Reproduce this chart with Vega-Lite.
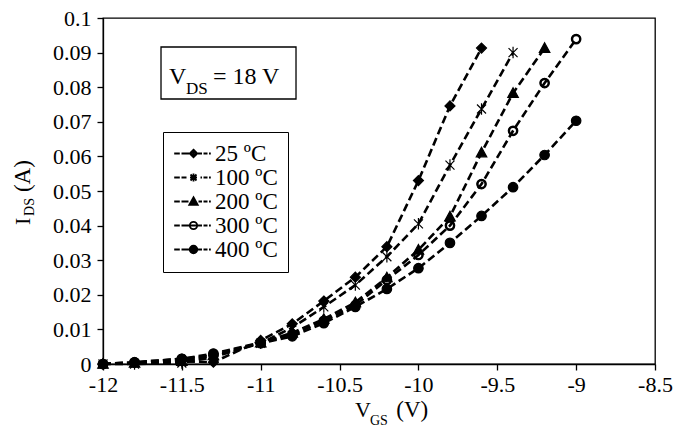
{
  "$schema": "https://vega.github.io/schema/vega-lite/v6.json",
  "width": 552,
  "height": 346,
  "autosize": "none",
  "padding": {"left": 103, "top": 18, "right": 32, "bottom": 66},
  "background": "white",
  "config": {
    "view": {"stroke": "black", "strokeWidth": 1.3},
    "font": "Liberation Serif",
    "axis": {
      "domainColor": "black", "domainWidth": 1.3, "tickColor": "black", "tickWidth": 1.3, "tickSize": 6,
      "labelFont": "Liberation Serif", "labelFontSize": 22, "labelColor": "black", "grid": false, "labelOverlap": false, "labelFlush": false
    }
  },
  "datasets": {
    "iv": [
      {"series": "\u200725 ºC", "vgs": -12, "ids": 0},
      {"series": "\u200725 ºC", "vgs": -11.8, "ids": 0.0003},
      {"series": "\u200725 ºC", "vgs": -11.5, "ids": 0.0008},
      {"series": "\u200725 ºC", "vgs": -11.3, "ids": 0.0005},
      {"series": "\u200725 ºC", "vgs": -11, "ids": 0.0068},
      {"series": "\u200725 ºC", "vgs": -10.8, "ids": 0.0116},
      {"series": "\u200725 ºC", "vgs": -10.6, "ids": 0.0182},
      {"series": "\u200725 ºC", "vgs": -10.4, "ids": 0.0251},
      {"series": "\u200725 ºC", "vgs": -10.2, "ids": 0.0339},
      {"series": "\u200725 ºC", "vgs": -10, "ids": 0.053},
      {"series": "\u200725 ºC", "vgs": -9.8, "ids": 0.0746},
      {"series": "\u200725 ºC", "vgs": -9.6, "ids": 0.0913},
      {"series": "100 ºC", "vgs": -12, "ids": 0},
      {"series": "100 ºC", "vgs": -11.8, "ids": 0},
      {"series": "100 ºC", "vgs": -11.5, "ids": 0.0003},
      {"series": "100 ºC", "vgs": -11.3, "ids": 0.002},
      {"series": "100 ºC", "vgs": -11, "ids": 0.006},
      {"series": "100 ºC", "vgs": -10.8, "ids": 0.0105},
      {"series": "100 ºC", "vgs": -10.6, "ids": 0.0165},
      {"series": "100 ºC", "vgs": -10.4, "ids": 0.0228},
      {"series": "100 ºC", "vgs": -10.2, "ids": 0.031},
      {"series": "100 ºC", "vgs": -10, "ids": 0.0405},
      {"series": "100 ºC", "vgs": -9.8, "ids": 0.0575},
      {"series": "100 ºC", "vgs": -9.6, "ids": 0.0737},
      {"series": "100 ºC", "vgs": -9.4, "ids": 0.09},
      {"series": "200 ºC", "vgs": -12, "ids": 0},
      {"series": "200 ºC", "vgs": -11.8, "ids": 0.0003},
      {"series": "200 ºC", "vgs": -11.5, "ids": 0.0008},
      {"series": "200 ºC", "vgs": -11.3, "ids": 0.0025},
      {"series": "200 ºC", "vgs": -11, "ids": 0.0062},
      {"series": "200 ºC", "vgs": -10.8, "ids": 0.009},
      {"series": "200 ºC", "vgs": -10.6, "ids": 0.013},
      {"series": "200 ºC", "vgs": -10.4, "ids": 0.0178},
      {"series": "200 ºC", "vgs": -10.2, "ids": 0.025},
      {"series": "200 ºC", "vgs": -10, "ids": 0.033},
      {"series": "200 ºC", "vgs": -9.8, "ids": 0.0426},
      {"series": "200 ºC", "vgs": -9.6, "ids": 0.0611},
      {"series": "200 ºC", "vgs": -9.4, "ids": 0.0783},
      {"series": "200 ºC", "vgs": -9.2, "ids": 0.0913},
      {"series": "300 ºC", "vgs": -12, "ids": 0},
      {"series": "300 ºC", "vgs": -11.8, "ids": 0.0005},
      {"series": "300 ºC", "vgs": -11.5, "ids": 0.0015},
      {"series": "300 ºC", "vgs": -11.3, "ids": 0.003},
      {"series": "300 ºC", "vgs": -11, "ids": 0.0062},
      {"series": "300 ºC", "vgs": -10.8, "ids": 0.0085},
      {"series": "300 ºC", "vgs": -10.6, "ids": 0.0125},
      {"series": "300 ºC", "vgs": -10.4, "ids": 0.017},
      {"series": "300 ºC", "vgs": -10.2, "ids": 0.0243},
      {"series": "300 ºC", "vgs": -10, "ids": 0.0315},
      {"series": "300 ºC", "vgs": -9.8, "ids": 0.04},
      {"series": "300 ºC", "vgs": -9.6, "ids": 0.052},
      {"series": "300 ºC", "vgs": -9.4, "ids": 0.0674},
      {"series": "300 ºC", "vgs": -9.2, "ids": 0.0812},
      {"series": "300 ºC", "vgs": -9, "ids": 0.0939},
      {"series": "400 ºC", "vgs": -12, "ids": 0},
      {"series": "400 ºC", "vgs": -11.8, "ids": 0.0005},
      {"series": "400 ºC", "vgs": -11.5, "ids": 0.0015},
      {"series": "400 ºC", "vgs": -11.3, "ids": 0.0025},
      {"series": "400 ºC", "vgs": -11, "ids": 0.006},
      {"series": "400 ºC", "vgs": -10.8, "ids": 0.008},
      {"series": "400 ºC", "vgs": -10.6, "ids": 0.0118},
      {"series": "400 ºC", "vgs": -10.4, "ids": 0.0165},
      {"series": "400 ºC", "vgs": -10.2, "ids": 0.0217},
      {"series": "400 ºC", "vgs": -10, "ids": 0.0277},
      {"series": "400 ºC", "vgs": -9.8, "ids": 0.035},
      {"series": "400 ºC", "vgs": -9.6, "ids": 0.0428},
      {"series": "400 ºC", "vgs": -9.4, "ids": 0.0511},
      {"series": "400 ºC", "vgs": -9.2, "ids": 0.0604},
      {"series": "400 ºC", "vgs": -9, "ids": 0.0703}
    ]
  },
  "layer": [
    {
      "data": {"name": "iv"},
      "mark": {"type": "line", "strokeDash": [8, 4], "strokeWidth": 2.6, "color": "black"},
      "encoding": {
        "x": {
          "field": "vgs", "type": "quantitative",
          "scale": {"domain": [-12, -8.5], "nice": false, "zero": false},
          "axis": {"title": null, "values": [-12, -11.5, -11, -10.5, -10, -9.5, -9, -8.5], "labelExpr": "'' + datum.value", "labelPadding": 4}
        },
        "y": {
          "field": "ids", "type": "quantitative",
          "scale": {"domain": [0, 0.1], "nice": false},
          "axis": {"title": null, "values": [0, 0.01, 0.02, 0.03, 0.04, 0.05, 0.06, 0.07, 0.08, 0.09, 0.1], "labelExpr": "format(datum.value, '.2~f')", "labelPadding": 6}
        },
        "detail": {"field": "series"}
      }
    },
    {
      "data": {"name": "iv"},
      "mark": {"type": "point", "filled": true, "color": "black", "stroke": "black", "strokeWidth": 1.2, "size": 100, "opacity": 1},
      "encoding": {
        "x": {"field": "vgs", "type": "quantitative", "axis": {"title": null, "values": [-12, -11.5, -11, -10.5, -10, -9.5, -9, -8.5], "labelExpr": "'' + datum.value", "labelPadding": 4}},
        "y": {"field": "ids", "type": "quantitative", "axis": {"title": null, "values": [0, 0.01, 0.02, 0.03, 0.04, 0.05, 0.06, 0.07, 0.08, 0.09, 0.1], "labelExpr": "format(datum.value, '.2~f')", "labelPadding": 6}},
        "shape": {
          "field": "series",
          "scale": {
            "domain": ["\u200725 ºC", "100 ºC", "200 ºC", "300 ºC", "400 ºC"],
            "range": [
              "M0,-1L1,0L0,1L-1,0Z",
              "M-0.9,-0.9L0.9,0.9M-0.9,0.9L0.9,-0.9M0,-1.15L0,1.15",
              "M0,-1.05L1.05,0.85L-1.05,0.85Z",
              "M0.95,0A0.95,0.95,0,1,1,-0.95,0A0.95,0.95,0,1,1,0.95,0ZM0.7,0A0.7,0.7,0,1,0,-0.7,0A0.7,0.7,0,1,0,0.7,0Z",
              "M0.95,0A0.95,0.95,0,1,1,-0.95,0A0.95,0.95,0,1,1,0.95,0Z"
            ]
          },
          "legend": null
        }
      }
    },
    {
      "data": {"name": "iv"},
      "mark": {"type": "point", "filled": false, "color": "black", "strokeWidth": 1.8, "opacity": 0},
      "encoding": {
        "x": {"field": "vgs", "type": "quantitative", "axis": {"title": null, "values": [-12, -11.5, -11, -10.5, -10, -9.5, -9, -8.5], "labelExpr": "'' + datum.value", "labelPadding": 4}},
        "y": {"field": "ids", "type": "quantitative", "axis": {"title": null, "values": [0, 0.01, 0.02, 0.03, 0.04, 0.05, 0.06, 0.07, 0.08, 0.09, 0.1], "labelExpr": "format(datum.value, '.2~f')", "labelPadding": 6}},
        "shape": {
          "field": "series",
          "scale": {
            "domain": ["\u200725 ºC", "100 ºC", "200 ºC", "300 ºC", "400 ºC"],
            "range": [
              "M-1.03,0H-0.47M-0.3,0H0.45M1.35,0H1.75M1.9,0H2.3M2.45,0H2.63M0.9,-0.38L1.28,0L0.9,0.38L0.52,0ZM0.9,-0.2L1.1,0L0.9,0.2L0.7,0ZM0.85,0H0.95",
              "M-1.03,0H-0.47M-0.3,0H0.2M1.6,0H1.75M1.9,0H2.3M2.45,0H2.63M0.6,-0.3L1.2,0.3M0.6,0.3L1.2,-0.3M0.9,-0.4L0.9,0.4M0.55,0H1.25",
              "M-1.03,0H-0.47M-0.3,0H0.4M1.4,0H1.75M1.9,0H2.3M2.45,0H2.63M0.9,-0.42L1.32,0.33L0.48,0.33ZM0.9,-0.12L1.1,0.24L0.7,0.24ZM0.9,0.05L0.9,0.3",
              "M-1.03,0H-0.47M-0.3,0H1.75M1.9,0H2.3M2.45,0H2.63M1.27,0A0.37,0.37,0,1,1,0.53,0A0.37,0.37,0,1,1,1.27,0Z",
              "M-1.03,0H-0.47M-0.3,0H0.5M1.3,0H1.75M1.9,0H2.3M2.45,0H2.63M1.28,0A0.38,0.38,0,1,1,0.52,0A0.38,0.38,0,1,1,1.28,0ZM1.12,0A0.22,0.22,0,1,1,0.68,0A0.22,0.22,0,1,1,1.12,0ZM0.98,0A0.08,0.08,0,1,1,0.82,0A0.08,0.08,0,1,1,0.98,0Z"
            ]
          },
          "legend": {
            "orient": "none", "legendX": 60, "legendY": 114, "title": null,
            "strokeColor": "black", "fillColor": "white", "padding": 10,
            "labelFont": "Liberation Serif", "labelFontSize": 23, "labelColor": "black", "labelOffset": 19,
            "symbolSize": 400, "symbolOpacity": 1, "rowPadding": 0,
            "symbolStrokeColor": "black", "symbolStrokeWidth": 1.8, "symbolFillColor": "transparent"
          }
        }
      }
    },
    {
      "data": {"values": [{"label": "box"}]},
      "mark": {"type": "rect", "fill": "white", "stroke": "black", "strokeWidth": 1.3},
      "encoding": {
        "x": {"datum": -11.6322, "type": "quantitative", "axis": {"title": null, "values": [-12, -11.5, -11, -10.5, -10, -9.5, -9, -8.5], "labelExpr": "'' + datum.value", "labelPadding": 4}},
        "x2": {"datum": -10.7762},
        "y": {"datum": 0.09162, "type": "quantitative", "axis": {"title": null, "values": [0, 0.01, 0.02, 0.03, 0.04, 0.05, 0.06, 0.07, 0.08, 0.09, 0.1], "labelExpr": "format(datum.value, '.2~f')", "labelPadding": 6}},
        "y2": {"datum": 0.07659}
      }
    },
    {
      "data": {"values": [{"label": "V"}]},
      "mark": {"type": "text", "font": "Liberation Serif", "fontSize": 24, "align": "left", "baseline": "alphabetic", "color": "black"},
      "encoding": {"text": {"field": "label"}, "x": {"datum": -11.5815, "type": "quantitative", "axis": {"title": null, "values": [-12, -11.5, -11, -10.5, -10, -9.5, -9, -8.5], "labelExpr": "'' + datum.value", "labelPadding": 4}}, "y": {"datum": 0.08092, "type": "quantitative", "axis": {"title": null, "values": [0, 0.01, 0.02, 0.03, 0.04, 0.05, 0.06, 0.07, 0.08, 0.09, 0.1], "labelExpr": "format(datum.value, '.2~f')", "labelPadding": 6}}}
    },
    {
      "data": {"values": [{"label": "DS"}]},
      "mark": {"type": "text", "font": "Liberation Serif", "fontSize": 17, "align": "left", "baseline": "alphabetic", "color": "black"},
      "encoding": {"text": {"field": "label"}, "x": {"datum": -11.4737, "type": "quantitative", "axis": {"title": null, "values": [-12, -11.5, -11, -10.5, -10, -9.5, -9, -8.5], "labelExpr": "'' + datum.value", "labelPadding": 4}}, "y": {"datum": 0.07803, "type": "quantitative", "axis": {"title": null, "values": [0, 0.01, 0.02, 0.03, 0.04, 0.05, 0.06, 0.07, 0.08, 0.09, 0.1], "labelExpr": "format(datum.value, '.2~f')", "labelPadding": 6}}}
    },
    {
      "data": {"values": [{"label": "= 18 V"}]},
      "mark": {"type": "text", "font": "Liberation Serif", "fontSize": 24, "align": "left", "baseline": "alphabetic", "color": "black"},
      "encoding": {"text": {"field": "label"}, "x": {"datum": -11.3025, "type": "quantitative", "axis": {"title": null, "values": [-12, -11.5, -11, -10.5, -10, -9.5, -9, -8.5], "labelExpr": "'' + datum.value", "labelPadding": 4}}, "y": {"datum": 0.08092, "type": "quantitative", "axis": {"title": null, "values": [0, 0.01, 0.02, 0.03, 0.04, 0.05, 0.06, 0.07, 0.08, 0.09, 0.1], "labelExpr": "format(datum.value, '.2~f')", "labelPadding": 6}}}
    },
    {
      "data": {"values": [{"label": "V"}]},
      "mark": {"type": "text", "font": "Liberation Serif", "fontSize": 22, "align": "left", "baseline": "alphabetic", "color": "black"},
      "encoding": {"text": {"field": "label"}, "x": {"datum": -10.402, "type": "quantitative", "axis": {"title": null, "values": [-12, -11.5, -11, -10.5, -10, -9.5, -9, -8.5], "labelExpr": "'' + datum.value", "labelPadding": 4}}, "y": {"datum": -0.01532, "type": "quantitative", "axis": {"title": null, "values": [0, 0.01, 0.02, 0.03, 0.04, 0.05, 0.06, 0.07, 0.08, 0.09, 0.1], "labelExpr": "format(datum.value, '.2~f')", "labelPadding": 6}}}
    },
    {
      "data": {"values": [{"label": "GS"}]},
      "mark": {"type": "text", "font": "Liberation Serif", "fontSize": 14, "align": "left", "baseline": "alphabetic", "color": "black"},
      "encoding": {"text": {"field": "label"}, "x": {"datum": -10.307, "type": "quantitative", "axis": {"title": null, "values": [-12, -11.5, -11, -10.5, -10, -9.5, -9, -8.5], "labelExpr": "'' + datum.value", "labelPadding": 4}}, "y": {"datum": -0.01763, "type": "quantitative", "axis": {"title": null, "values": [0, 0.01, 0.02, 0.03, 0.04, 0.05, 0.06, 0.07, 0.08, 0.09, 0.1], "labelExpr": "format(datum.value, '.2~f')", "labelPadding": 6}}}
    },
    {
      "data": {"values": [{"label": "(V)"}]},
      "mark": {"type": "text", "font": "Liberation Serif", "fontSize": 23, "align": "left", "baseline": "alphabetic", "color": "black"},
      "encoding": {"text": {"field": "label"}, "x": {"datum": -10.14, "type": "quantitative", "axis": {"title": null, "values": [-12, -11.5, -11, -10.5, -10, -9.5, -9, -8.5], "labelExpr": "'' + datum.value", "labelPadding": 4}}, "y": {"datum": -0.01532, "type": "quantitative", "axis": {"title": null, "values": [0, 0.01, 0.02, 0.03, 0.04, 0.05, 0.06, 0.07, 0.08, 0.09, 0.1], "labelExpr": "format(datum.value, '.2~f')", "labelPadding": 6}}}
    },
    {
      "data": {"values": [{"label": "I"}]},
      "mark": {"type": "text", "font": "Liberation Serif", "fontSize": 22, "align": "left", "baseline": "alphabetic", "angle": 270, "color": "black"},
      "encoding": {"text": {"field": "label"}, "x": {"datum": -12.463, "type": "quantitative", "axis": {"title": null, "values": [-12, -11.5, -11, -10.5, -10, -9.5, -9, -8.5], "labelExpr": "'' + datum.value", "labelPadding": 4}}, "y": {"datum": 0.0402, "type": "quantitative", "axis": {"title": null, "values": [0, 0.01, 0.02, 0.03, 0.04, 0.05, 0.06, 0.07, 0.08, 0.09, 0.1], "labelExpr": "format(datum.value, '.2~f')", "labelPadding": 6}}}
    },
    {
      "data": {"values": [{"label": "DS"}]},
      "mark": {"type": "text", "font": "Liberation Serif", "fontSize": 14, "align": "left", "baseline": "alphabetic", "angle": 270, "color": "black"},
      "encoding": {"text": {"field": "label"}, "x": {"datum": -12.4375, "type": "quantitative", "axis": {"title": null, "values": [-12, -11.5, -11, -10.5, -10, -9.5, -9, -8.5], "labelExpr": "'' + datum.value", "labelPadding": 4}}, "y": {"datum": 0.0428, "type": "quantitative", "axis": {"title": null, "values": [0, 0.01, 0.02, 0.03, 0.04, 0.05, 0.06, 0.07, 0.08, 0.09, 0.1], "labelExpr": "format(datum.value, '.2~f')", "labelPadding": 6}}}
    },
    {
      "data": {"values": [{"label": "(A)"}]},
      "mark": {"type": "text", "font": "Liberation Serif", "fontSize": 23, "align": "left", "baseline": "alphabetic", "angle": 270, "color": "black"},
      "encoding": {"text": {"field": "label"}, "x": {"datum": -12.463, "type": "quantitative", "axis": {"title": null, "values": [-12, -11.5, -11, -10.5, -10, -9.5, -9, -8.5], "labelExpr": "'' + datum.value", "labelPadding": 4}}, "y": {"datum": 0.0497, "type": "quantitative", "axis": {"title": null, "values": [0, 0.01, 0.02, 0.03, 0.04, 0.05, 0.06, 0.07, 0.08, 0.09, 0.1], "labelExpr": "format(datum.value, '.2~f')", "labelPadding": 6}}}
    }
  ],
  "resolve": {"scale": {"shape": "independent"}, "legend": {"shape": "independent"}}
}
